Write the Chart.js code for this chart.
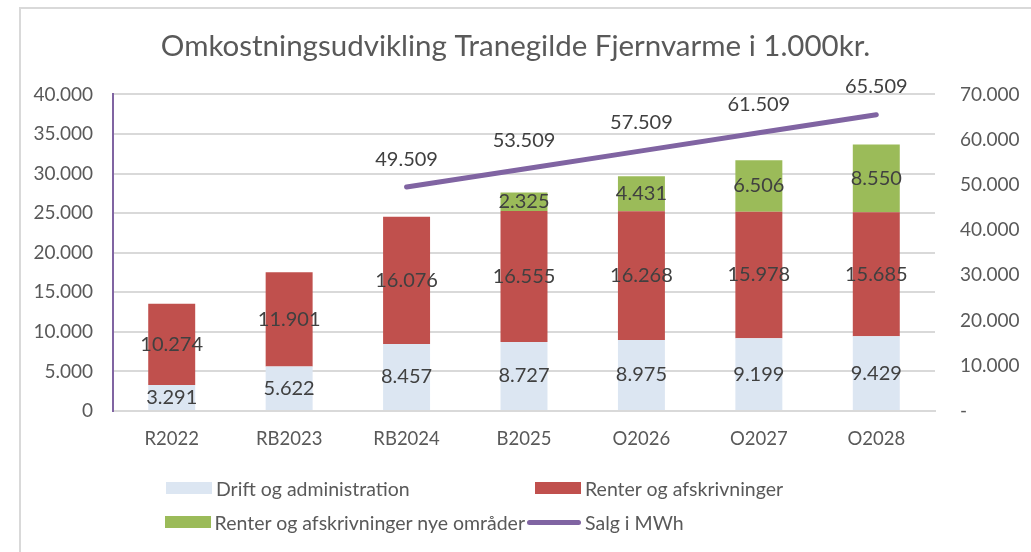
<!DOCTYPE html>
<html>
<head>
<meta charset="utf-8">
<script src="https://cdn.jsdelivr.net/npm/chart.js@4.4.1/dist/chart.umd.min.js"></script>
<style>
  html, body { margin: 0; background: #fff; overflow: hidden; }
  #wrap { position: relative; width: 1031px; height: 552px; overflow: hidden; }
  #frame { position: absolute; left: 19px; top: 7px; width: 1100px; height: 600px; border-left: 2px solid #d9d9d9; border-top: 2px solid #d9d9d9; }
  #chart { position: relative; }
  #legend { position: absolute; left: 156px; top: 471px; display: grid; grid-template-columns: 369px auto; grid-auto-rows: 34px; font: 19.5px Lato, sans-serif; color: #595959; }
  .item { display: flex; align-items: center; white-space: nowrap; }
  .slot { width: 56px; display: flex; justify-content: flex-end; margin-right: 4px; }
</style>
</head>
<body>
<div id="wrap">
  <div id="frame"></div>
  <canvas id="chart"></canvas>
  <div id="legend"></div>
</div>
<script>
const categories = ['R2022', 'RB2023', 'RB2024', 'B2025', 'O2026', 'O2027', 'O2028'];
const drift = [3291, 5622, 8457, 8727, 8975, 9199, 9429];
const renter = [10274, 11901, 16076, 16555, 16268, 15978, 15685];
const renterNye = [null, null, null, 2325, 4431, 6506, 8550];
const salg = [null, null, 49509, 53509, 57509, 61509, 65509];

// 1.000-separator med punktum
const fmt = v => String(Math.round(v)).replace(/\B(?=(\d{3})+(?!\d))/g, '.');

Chart.defaults.font.family = 'Lato, sans-serif';

const valueLabels = {
  id: 'valueLabels',
  afterDatasetsDraw(chart) {
    const ctx = chart.ctx;
    ctx.save();
    ctx.fillStyle = '#404040';
    ctx.textAlign = 'center';
    ctx.textBaseline = 'middle';
    ctx.font = '20px Lato, sans-serif';
    chart.data.datasets.forEach((ds, i) => {
      const meta = chart.getDatasetMeta(i);
      meta.data.forEach((el, j) => {
        const v = ds.data[j];
        if (v == null) return;
        if (ds.type === 'line') {
          ctx.fillText(fmt(v), el.x, el.y - 28);
        } else {
          ctx.fillText(fmt(v), el.x, (el.y + el.base) / 2);
        }
      });
    });
    ctx.restore();
  }
};

const barOpts = { type: 'bar', order: 1, barPercentage: 0.4, categoryPercentage: 1 };

const chart = new Chart(document.getElementById('chart'), {
  type: 'bar',
  data: {
    labels: categories,
    datasets: [
      { ...barOpts, label: 'Drift og administration', data: drift, backgroundColor: '#DCE6F2' },
      { ...barOpts, label: 'Renter og afskrivninger', data: renter, backgroundColor: '#C0504D' },
      { ...barOpts, label: 'Renter og afskrivninger nye områder', data: renterNye, backgroundColor: '#9BBB59' },
      {
        type: 'line', order: 0, label: 'Salg i MWh', data: salg, yAxisID: 'y1',
        borderColor: '#8064A2', backgroundColor: '#8064A2', borderWidth: 5,
        pointRadius: 0, borderCapStyle: 'round'
      }
    ]
  },
  options: {
    responsive: true,
    maintainAspectRatio: false,
    animation: false,
    layout: { padding: 0 },
    plugins: {
      legend: { display: false },
      tooltip: { enabled: false },
      title: {
        display: true,
        text: 'Omkostningsudvikling Tranegilde Fjernvarme i 1.000kr.',
        color: '#595959',
        font: { size: 29.5, weight: 'normal' },
        padding: { top: 29, bottom: 30 }
      }
    },
    scales: {
      x: {
        stacked: true,
        grid: { display: false, drawTicks: false },
        border: { color: '#d9d9d9', width: 2 },
        ticks: { color: '#595959', font: { size: 18.5 }, padding: 17 },
        afterFit: s => { s.height = 141; }
      },
      y: {
        stacked: true,
        min: 0,
        max: 40000,
        ticks: { stepSize: 5000, color: '#595959', font: { size: 19 }, padding: 20, callback: v => fmt(v) },
        grid: { color: '#d9d9d9', lineWidth: 2, drawTicks: false },
        border: { color: '#8064A2', width: 2 },
        afterFit: s => { s.width = 113; }
      },
      y1: {
        position: 'right',
        min: 0,
        max: 70000,
        ticks: { stepSize: 10000, color: '#595959', font: { size: 19 }, padding: 25, callback: v => v === 0 ? '-' : fmt(v) },
        grid: { display: false, drawTicks: false },
        border: { display: false },
        afterFit: s => { s.width = 96; }
      }
    }
  },
  plugins: [valueLabels]
});

// legende i to kolonner som i Excel
const legend = document.getElementById('legend');
chart.data.datasets.forEach(ds => {
  const item = document.createElement('div');
  item.className = 'item';
  const slot = document.createElement('span');
  slot.className = 'slot';
  const mark = document.createElement('span');
  if (ds.type === 'line') {
    mark.style.cssText = 'width:54px;height:5px;border-radius:3px;background:' + ds.borderColor;
  } else {
    mark.style.cssText = 'width:46px;height:12px;background:' + ds.backgroundColor;
  }
  slot.appendChild(mark);
  const txt = document.createElement('span');
  txt.textContent = ds.label;
  item.appendChild(slot);
  item.appendChild(txt);
  legend.appendChild(item);
});
</script>
</body>
</html>
